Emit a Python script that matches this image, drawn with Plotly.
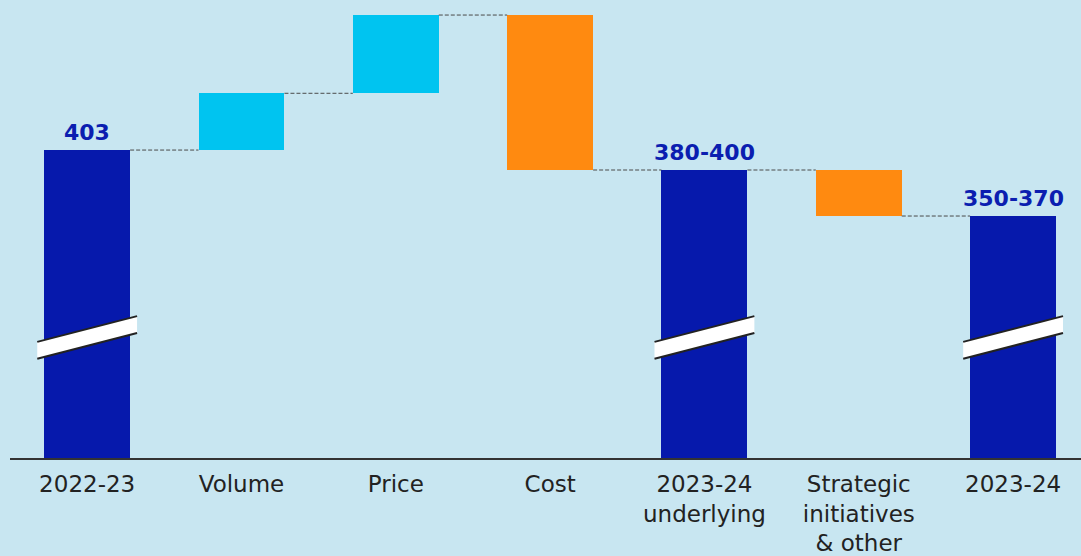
import plotly.graph_objects as go

categories = ["2022-23", "Volume", "Price", "Cost", "2023-24<br>underlying",
              "Strategic<br>initiatives<br>& other", "2023-24"]
kinds = ["total", "delta", "delta", "delta", "total", "delta", "total"]
values = [403, 37, 51, -101, 390, -30, 360]
value_labels = ["403", "", "", "", "380-400", "", "350-370"]

BG = "#C8E6F1"
DARK = "#0619AC"
CYAN = "#00C4F0"
ORANGE = "#FF8A10"
LABEL = "#0B1EB0"
Y_RANGE = [202.3, 500.8]
BAR_W = 0.557
BREAK_LO = 267.0   # data level of break band bottom at bar centre
BREAK_H = 11.0
BREAK_SLOPE = 26.0  # rise across break width (pixels)

# compute waterfall bases
bases, tops, colors = [], [], []
running = 0
for k, v in zip(kinds, values):
    if k == "total":
        bases.append(0)
        tops.append(v)
        running = v
        colors.append(DARK)
    else:
        new = running + v
        bases.append(min(running, new))
        tops.append(max(running, new))
        colors.append(CYAN if v > 0 else ORANGE)
        running = new

xs = list(range(len(categories)))
heights = [t - b for t, b in zip(tops, bases)]

fig = go.Figure()
fig.add_trace(go.Bar(x=xs, y=heights, base=bases, width=BAR_W,
                     marker=dict(color=colors, line=dict(width=0)),
                     hoverinfo="skip"))

shapes = []
# connectors
levels = []
running = 0
for i, (k, v) in enumerate(zip(kinds, values)):
    running = v if k == "total" else running + v
    levels.append(running)
for i in range(len(xs) - 1):
    shapes.append(dict(type="line", xref="x", yref="y",
                       x0=xs[i] + BAR_W / 2, x1=xs[i + 1] - BAR_W / 2,
                       y0=levels[i], y1=levels[i],
                       line=dict(color="#4a4a4a", width=1, dash="4px,2px")))

# break marks
half = BAR_W / 2 + 0.045
for i, k in enumerate(kinds):
    if k != "total":
        continue
    xl, xr = xs[i] - half, xs[i] + half
    yl_lo, yr_lo = BREAK_LO, BREAK_LO + BREAK_SLOPE / 1.55
    yl_hi, yr_hi = yl_lo + BREAK_H, yr_lo + BREAK_H
    path = f"M {xl} {yl_lo} L {xr} {yr_lo} L {xr} {yr_hi} L {xl} {yl_hi} Z"
    shapes.append(dict(type="path", xref="x", yref="y", path=path,
                       fillcolor="white", line=dict(width=0)))
    for a, b in [(yl_lo, yr_lo), (yl_hi, yr_hi)]:
        shapes.append(dict(type="line", xref="x", yref="y", x0=xl, x1=xr,
                           y0=a, y1=b, line=dict(color="#222222", width=2)))

annotations = []
for i, lab in enumerate(value_labels):
    if lab:
        annotations.append(dict(x=xs[i], y=tops[i], xref="x", yref="y",
                                text=f"<b>{lab}</b>", showarrow=False,
                                yanchor="bottom", yshift=3,
                                font=dict(family="DejaVu Sans", size=22, color=LABEL)))

fig.update_layout(
    width=1081, height=556,
    paper_bgcolor=BG, plot_bgcolor=BG,
    margin=dict(l=10, r=0, t=0, b=96),
    showlegend=False,
    shapes=shapes, annotations=annotations,
    bargap=0,
    xaxis=dict(range=[-0.5, 6.44], tickvals=xs, ticktext=categories,
               showgrid=False, zeroline=False, showline=True,
               linecolor="#333333", linewidth=2, ticks="",
               tickfont=dict(family="DejaVu Sans", size=23, color="#222222"),
               ticklabelstandoff=4),
    yaxis=dict(range=Y_RANGE, visible=False, showgrid=False, zeroline=False),
)

fig.write_html("out.html")
